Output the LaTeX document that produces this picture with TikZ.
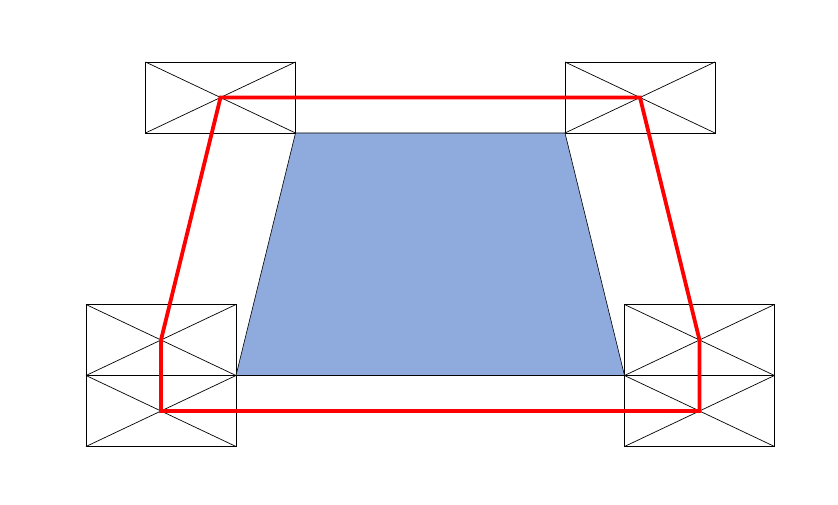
\documentclass[tikz,border=0pt]{standalone}
\usepackage[rgb]{xcolor}
\definecolor{trapblue}{HTML}{8FAADC}
\usepackage{tikz}

\begin{document}
\begin{tikzpicture}[x=1pt, y=-1pt,
	box/.style={rectangle, draw, line width=0.9pt, minimum width=150pt, minimum height=71pt, inner sep=0pt, outer sep=0pt},
	track/.style={draw=red, line width=3.8pt, line join=miter}]
	\useasboundingbox (0,0) rectangle (838,505);
	\node[box] at (220.5,97.5) (tl) {};
	\node[box] at (640,97.5) (tr) {};
	\node[box] at (161,340) (blt) {};
	\node[box] at (161,411) (blb) {};
	\node[box] at (699.5,340) (brt) {};
	\node[box] at (699.5,411) (brb) {};

	\foreach \b in {tl,tr,blt,blb,brt,brb}
		\draw[line width=0.7pt] (\b.north west) -- (\b.south east) (\b.north east) -- (\b.south west);

	\filldraw[fill=trapblue, draw=black, line width=0.6pt] (tl.south east) -- (tr.south west) -- (brb.north west) -- (blt.south east) -- cycle;

	\draw[track] (tl.center) -- (tr.center) -- (brt.center) -- (brb.center) -- (blb.center) -- (blt.center) -- cycle;
\end{tikzpicture}
\end{document}
